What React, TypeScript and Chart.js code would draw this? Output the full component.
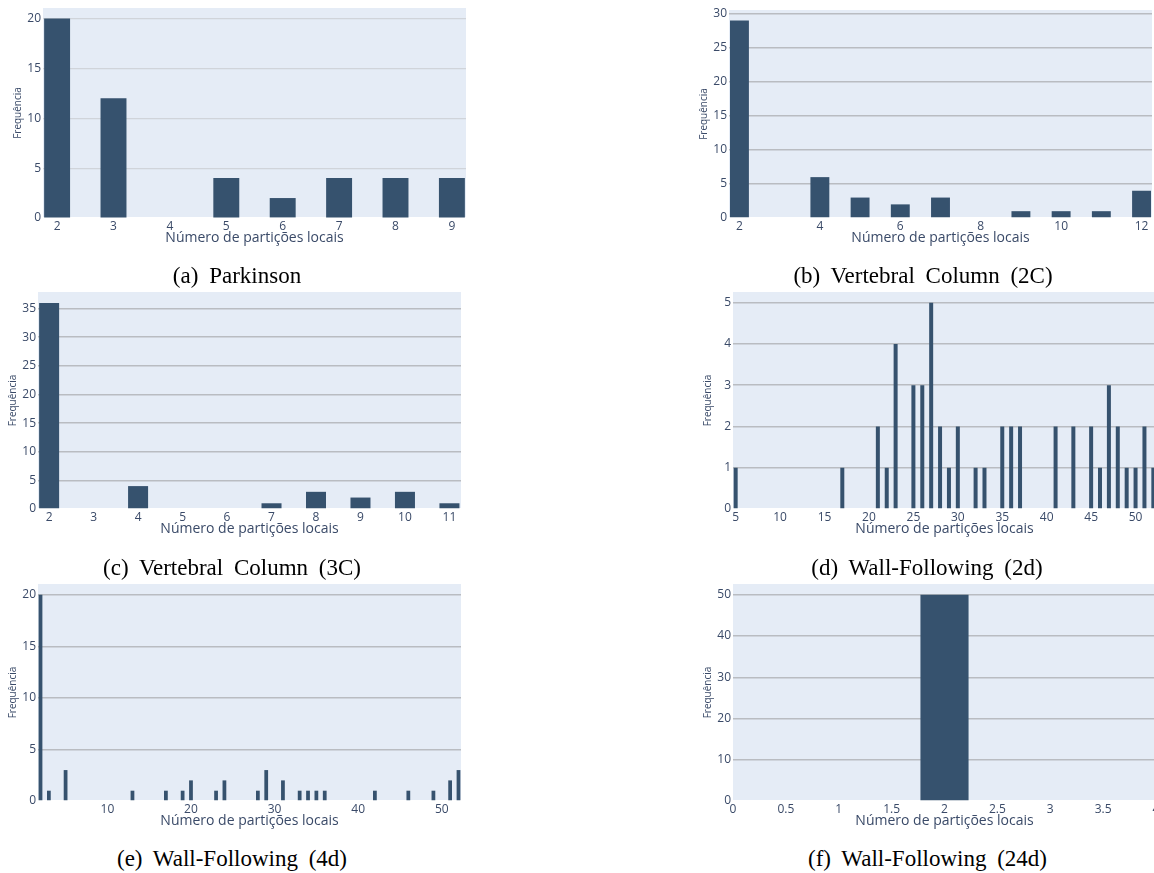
import React, { useEffect, useRef } from 'react';
import { Chart, registerables } from 'chart.js';

Chart.register(...registerables);

const X_TITLE = 'Número de partições locais';
const Y_TITLE = 'Frequência';

// (a) Parkinson
const parkinsonX = [2, 3, 4, 5, 6, 7, 8, 9];
const parkinsonY = [20, 12, 0, 4, 2, 4, 4, 4];
const parkinsonXTicks = [2, 3, 4, 5, 6, 7, 8, 9];
const parkinsonYTicks = [0, 5, 10, 15, 20];

// (b) Vertebral Column (2C)
const vc2X = [2, 3, 4, 5, 6, 7, 8, 9, 10, 11, 12];
const vc2Y = [29, 0, 6, 3, 2, 3, 0, 1, 1, 1, 4];
const vc2XTicks = [2, 4, 6, 8, 10, 12];
const vc2YTicks = [0, 5, 10, 15, 20, 25, 30];

// (c) Vertebral Column (3C)
const vc3X = [2, 3, 4, 5, 6, 7, 8, 9, 10, 11];
const vc3Y = [36, 0, 4, 0, 0, 1, 3, 2, 3, 1];
const vc3XTicks = [2, 3, 4, 5, 6, 7, 8, 9, 10, 11];
const vc3YTicks = [0, 5, 10, 15, 20, 25, 30, 35];

// (d) Wall-Following (2d)
const wf2X = [5, 17, 21, 22, 23, 25, 26, 27, 28, 29, 30, 32, 33, 35, 36, 37, 41, 43, 45, 46, 47, 48, 49, 50, 51, 52];
const wf2Y = [1, 1, 2, 1, 4, 3, 3, 5, 2, 1, 2, 1, 1, 2, 2, 2, 2, 2, 2, 1, 3, 2, 1, 1, 2, 1];
const wf2XTicks = [5, 10, 15, 20, 25, 30, 35, 40, 45, 50];
const wf2YTicks = [0, 1, 2, 3, 4, 5];

// (e) Wall-Following (4d)
const wf4X = [2, 3, 5, 13, 17, 19, 20, 23, 24, 28, 29, 31, 33, 34, 35, 36, 42, 46, 49, 51, 52];
const wf4Y = [20, 1, 3, 1, 1, 1, 2, 1, 2, 1, 3, 2, 1, 1, 1, 1, 1, 1, 1, 2, 3];
const wf4XTicks = [10, 20, 30, 40, 50];
const wf4YTicks = [0, 5, 10, 15, 20];

// (f) Wall-Following (24d)
const wf24X = [2];
const wf24Y = [50];
const wf24XTicks = [0, 0.5, 1, 1.5, 2, 2.5, 3, 3.5, 4];
const wf24YTicks = [0, 10, 20, 30, 40, 50];

const captions = [
  '(a) Parkinson',
  '(b) Vertebral Column (2C)',
  '(c) Vertebral Column (3C)',
  '(d) Wall-Following (2d)',
  '(e) Wall-Following (4d)',
  '(f) Wall-Following (24d)',
];

const BAR = '#36526e';
const TEXT = '#3a4a68';
const BG = '#e5ecf6';
const AXIS_W = 40;
const PAD_T = 12;
const PAD_R = 12;
const AXIS_H = 28;
const FONT = "'Open Sans', sans-serif";

const bgPlugin = {
  id: 'plotBg',
  beforeDraw(chart: any) {
    const { ctx, chartArea: a } = chart;
    ctx.save();
    ctx.fillStyle = BG;
    ctx.fillRect(a.left, a.top, a.right - a.left, a.bottom - a.top);
    ctx.restore();
  },
};

type PanelProps = {
  xs: number[];
  ys: number[];
  xTicks: number[];
  yTicks: number[];
  xMin: number;
  xMax: number;
  yMax: number;
  barPct: number;
  l: number;
  t: number;
  r: number;
  b: number;
  grid: string;
  gridW: number;
};

function Panel(p: PanelProps) {
  const ref = useRef<HTMLCanvasElement>(null);
  const w = p.r - p.l + AXIS_W + PAD_R;
  const h = p.b - p.t + PAD_T + AXIS_H;
  useEffect(() => {
    const chart = new Chart(ref.current as HTMLCanvasElement, {
      type: 'bar',
      data: {
        datasets: [
          {
            data: p.xs.map((x, i) => ({ x, y: p.ys[i] })),
            backgroundColor: BAR,
            borderWidth: 0,
            barPercentage: p.barPct,
            categoryPercentage: 1,
          } as any,
        ],
      },
      options: {
        responsive: false,
        animation: false,
        devicePixelRatio: 1,
        layout: { padding: { top: PAD_T, right: PAD_R, left: 0, bottom: 0 } },
        plugins: { legend: { display: false }, tooltip: { enabled: false } },
        scales: {
          x: {
            type: 'linear',
            min: p.xMin,
            max: p.xMax,
            offset: false,
            grid: { display: false, drawTicks: false },
            border: { display: false },
            afterBuildTicks: (s: any) => {
              s.ticks = p.xTicks.map((v) => ({ value: v }));
            },
            afterFit: (s: any) => {
              s.height = AXIS_H;
            },
            ticks: {
              autoSkip: false,
              maxRotation: 0,
              minRotation: 0,
              padding: 1,
              color: TEXT,
              font: { size: 12, family: FONT },
              callback: (v: any) => String(v),
            },
            title: {
              display: true,
              text: X_TITLE,
              color: TEXT,
              font: { size: 14, family: FONT },
              padding: { top: 0, bottom: 0 },
            },
          },
          y: {
            type: 'linear',
            min: 0,
            max: p.yMax,
            grid: {
              drawTicks: false,
              color: (c: any) => (c.tick && c.tick.value === 0 ? '#ffffff' : p.grid),
              lineWidth: p.gridW,
            },
            border: { display: false },
            afterBuildTicks: (s: any) => {
              s.ticks = p.yTicks.map((v) => ({ value: v }));
            },
            afterFit: (s: any) => {
              s.width = AXIS_W;
            },
            ticks: {
              padding: 2,
              color: TEXT,
              font: { size: 12, family: FONT },
              callback: (v: any) => String(v),
            },
            title: {
              display: true,
              text: Y_TITLE,
              color: TEXT,
              font: { size: 10, family: FONT },
              padding: { top: 9, bottom: 0 },
            },
          },
        },
      } as any,
      plugins: [bgPlugin],
    });
    return () => chart.destroy();
  }, []);
  return (
    <canvas
      ref={ref}
      width={w}
      height={h}
      style={{ position: 'absolute', left: p.l - AXIS_W, top: p.t - PAD_T, width: w, height: h }}
    />
  );
}

function Caption({ text, cx, baseline }: { text: string; cx: number; baseline: number }) {
  return (
    <div
      style={{
        position: 'absolute',
        left: cx - 250,
        width: 500,
        top: baseline - 19.3,
        textAlign: 'center',
        fontFamily: "'Liberation Serif', 'Times New Roman', serif",
        fontSize: 23,
        lineHeight: '23px',
        wordSpacing: 5,
        color: '#000',
        whiteSpace: 'nowrap',
      }}
    >
      {text}
    </div>
  );
}

export default function App() {
  return (
    <div
      style={{
        position: 'fixed',
        left: 0,
        top: 0,
        width: 1154,
        height: 873,
        overflow: 'hidden',
        background: '#ffffff',
      }}
    >
      <Panel xs={parkinsonX} ys={parkinsonY} xTicks={parkinsonXTicks} yTicks={parkinsonYTicks}
        xMin={1.75} xMax={9.25} yMax={21.05} barPct={0.46} l={43} t={8} r={466} b={218} grid="#d0d4da" gridW={1.2} />
      <Panel xs={vc2X} ys={vc2Y} xTicks={vc2XTicks} yTicks={vc2YTicks}
        xMin={1.74} xMax={12.26} yMax={30.53} barPct={0.47} l={729} t={10} r={1152} b={218} grid="#b9bcc1" gridW={1.5} />
      <Panel xs={vc3X} ys={vc3Y} xTicks={vc3XTicks} yTicks={vc3YTicks}
        xMin={1.75} xMax={11.26} yMax={37.9} barPct={0.45} l={38} t={292} r={461} b={509} grid="#b9bcc1" gridW={1.5} />
      <Panel xs={wf2X} ys={wf2Y} xTicks={wf2XTicks} yTicks={wf2YTicks}
        xMin={4.7} xMax={52.3} yMax={5.26} barPct={0.45} l={733} t={292} r={1156} b={509} grid="#b9bcc1" gridW={1.5} />
      <Panel xs={wf4X} ys={wf4Y} xTicks={wf4XTicks} yTicks={wf4YTicks}
        xMin={1.7} xMax={52.3} yMax={21.05} barPct={0.45} l={38} t={584} r={461} b={801} grid="#b9bcc1" gridW={1.5} />
      <Panel xs={wf24X} ys={wf24Y} xTicks={wf24XTicks} yTicks={wf24YTicks}
        xMin={0} xMax={4} yMax={52.63} barPct={0.91} l={733} t={584} r={1156} b={801} grid="#b9bcc1" gridW={1.5} />
      <Caption text={captions[0]} cx={237} baseline={283} />
      <Caption text={captions[1]} cx={923} baseline={283} />
      <Caption text={captions[2]} cx={232} baseline={575} />
      <Caption text={captions[3]} cx={927} baseline={575} />
      <Caption text={captions[4]} cx={232} baseline={866.7} />
      <Caption text={captions[5]} cx={927.5} baseline={866.7} />
    </div>
  );
}
